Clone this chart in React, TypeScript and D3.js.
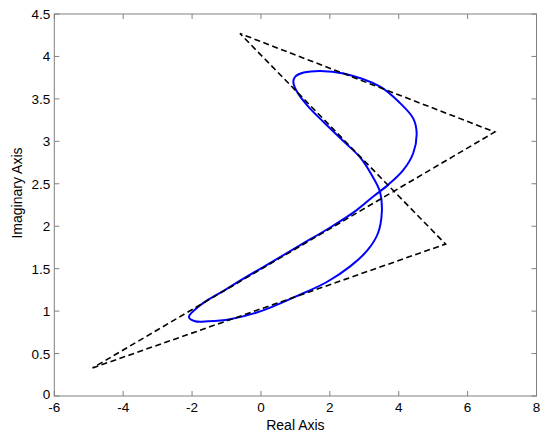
import React from 'react';
import * as d3 from 'd3';

const xTicks = [-6, -4, -2, 0, 2, 4, 6, 8];
const yTicks = [0, 0.5, 1, 1.5, 2, 2.5, 3, 3.5, 4, 4.5];
const xTickLabels = ['-6', '-4', '-2', '0', '2', '4', '6', '8'];
const yTickLabels = ['0', '0.5', '1', '1.5', '2', '2.5', '3', '3.5', '4', '4.5'];

// control polygon (closed, dashed)
const polyX = [-4.89, 5.36, -0.61, 6.79];
const polyY = [0.33, 1.79, 4.27, 3.11];

// closed blue curve
const curveX = [-2.09, -1.91, -1.53, -1.04, -0.56, 0.3, 1.13, 2.01, 2.78, 3.26, 3.7, 4.13, 4.42, 4.52, 4.42, 4.04, 3.46, 2.4, 1.72, 1.24, 0.99, 0.94, 1.04, 1.33, 1.81, 2.4, 2.88, 3.22, 3.46, 3.51, 3.4, 3.1, 2.6, 1.9, 1.0, 0.0, -0.9, -1.53, -1.91];
const curveY = [0.93, 1.02, 1.135, 1.25, 1.37, 1.575, 1.775, 1.985, 2.19, 2.35, 2.49, 2.66, 2.86, 3.1, 3.27, 3.45, 3.645, 3.8, 3.83, 3.81, 3.76, 3.7, 3.59, 3.43, 3.23, 3.0, 2.81, 2.6, 2.4, 2.17, 1.92, 1.72, 1.53, 1.34, 1.17, 1.0, 0.905, 0.88, 0.88];

const W = 550, H = 438;
const L = 54.3, R = 536.5, T = 14, B = 396;

export default function App() {
  const x = d3.scaleLinear().domain([-6, 8]).range([L, R]);
  const y = d3.scaleLinear().domain([0, 4.5]).range([B, T]);
  const polyPts: [number, number][] = polyX.map((v, i) => [x(v), y(polyY[i])]);
  const poly = d3.line().curve(d3.curveLinearClosed)(polyPts) || '';
  const curvePts: [number, number][] = curveX.map((v, i) => [x(v), y(curveY[i])]);
  const curve = d3.line().curve(d3.curveCatmullRomClosed.alpha(0.5))(curvePts) || '';
  const axisColor = '#808080';
  const tl = 5;
  const font = 'Arial, "Liberation Sans", Helvetica, sans-serif';
  return (
    <svg width={W} height={H} style={{ position: 'absolute', left: 0, top: 0, background: '#fff' }} fontFamily={font}>
      <rect x={0} y={0} width={W} height={H} fill="#fff" />
      <path d={curve} fill="none" stroke="#0000ff" strokeWidth={2} />
      <path d={poly} fill="none" stroke="#000" strokeWidth={1.6} strokeDasharray="6,3.5" />
      <rect x={L} y={T} width={R - L} height={B - T} fill="none" stroke={axisColor} strokeWidth={1} />
      {xTicks.map((t, i) => (
        <g key={'x' + i}>
          <line x1={x(t)} x2={x(t)} y1={B} y2={B - tl} stroke={axisColor} />
          <line x1={x(t)} x2={x(t)} y1={T} y2={T + tl} stroke={axisColor} />
          <text x={x(t)} y={B + 16} textAnchor="middle" fontSize={13.5} fill="#000">{xTickLabels[i]}</text>
        </g>
      ))}
      {yTicks.map((t, i) => (
        <g key={'y' + i}>
          <line x1={L} x2={L + tl} y1={y(t)} y2={y(t)} stroke={axisColor} />
          <line x1={R} x2={R - tl} y1={y(t)} y2={y(t)} stroke={axisColor} />
          <text x={L - 4} y={y(t) + (t === 0 ? 3 : 5)} textAnchor="end" fontSize={13.5} fill="#000">{yTickLabels[i]}</text>
        </g>
      ))}
      <text x={(L + R) / 2} y={430} textAnchor="middle" fontSize={14} fill="#000">Real Axis</text>
      <text transform={`translate(22,193) rotate(-90)`} textAnchor="middle" fontSize={14} fill="#000">Imaginary Axis</text>
    </svg>
  );
}
